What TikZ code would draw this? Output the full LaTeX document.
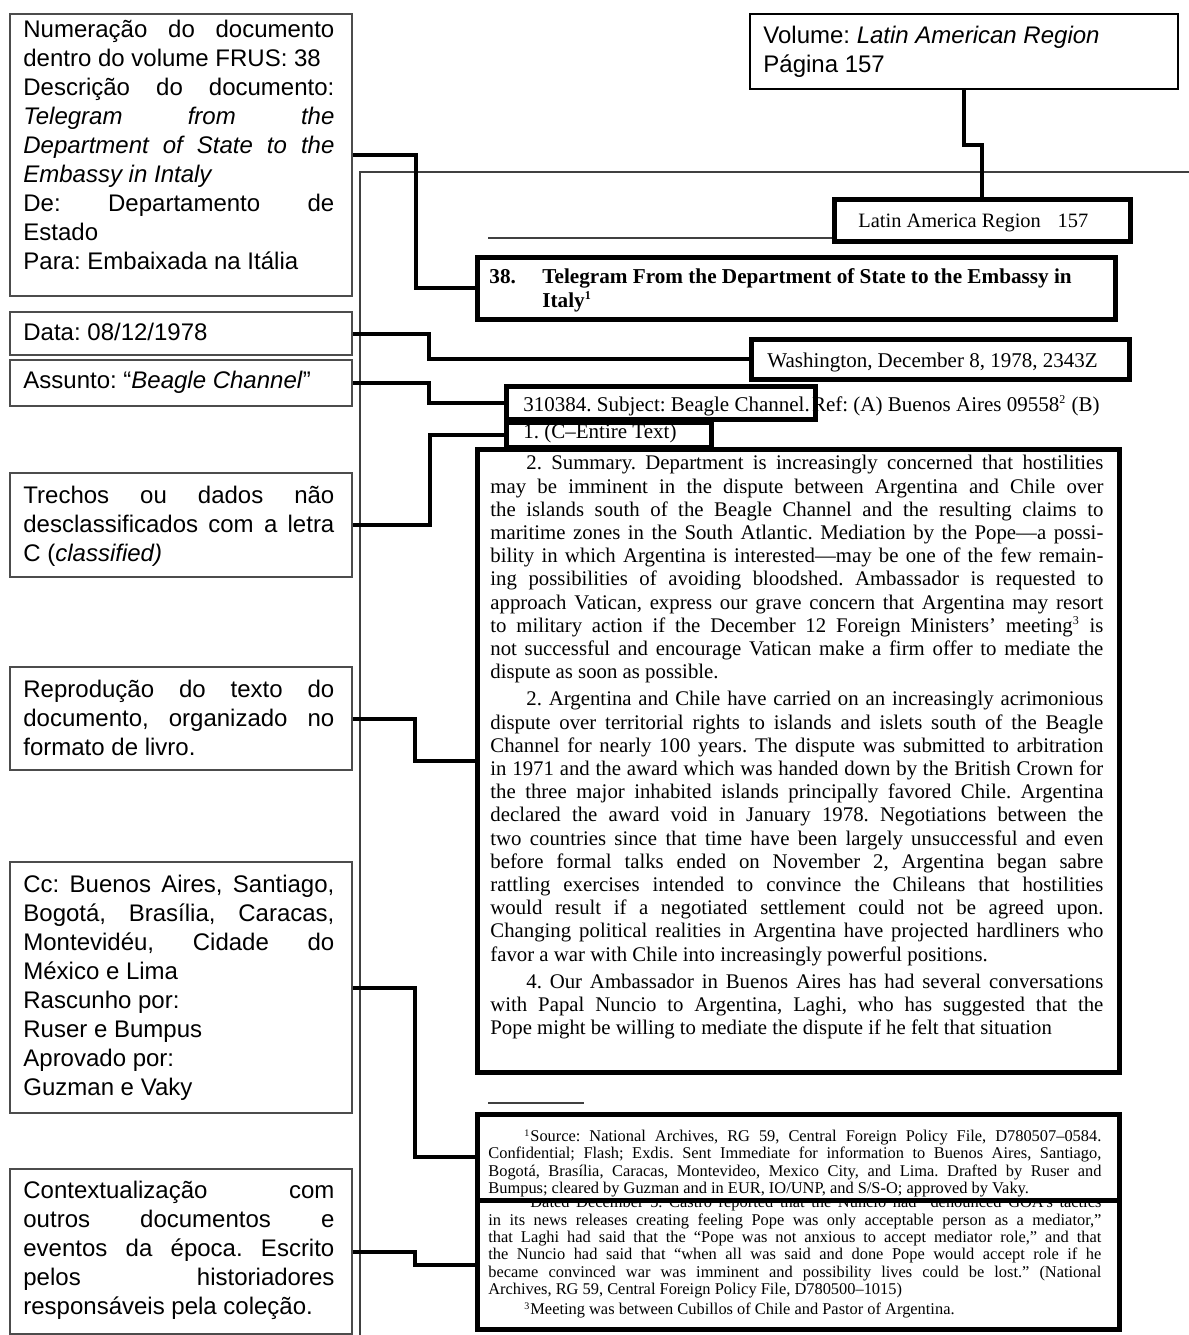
\documentclass[tikz,border=0pt]{standalone}
\usepackage{fontspec}
\setmainfont{Liberation Serif}
\newfontfamily\arial{Liberation Sans}
\setlength{\parindent}{0pt}
\tolerance=10000
\hbadness=10000
\hyphenpenalty=10000
\frenchspacing

\begin{document}
\frenchspacing
\begin{tikzpicture}[x=0.5pt, y=-0.5pt,
        lbox/.style={draw=black!70, line width=1pt, anchor=north west, inner sep=0pt, minimum width=171pt},
        ltext/.style={anchor=north west, inner sep=0pt, text width=155.5pt, align=justify, font=\arial\fontsize{12}{14.5}\selectfont},
        pbox/.style={draw, line width=2.4pt, anchor=north west, inner sep=0pt},
        ptext/.style={anchor=north west, inner sep=0pt, text width=306.5pt, align=justify, font=\fontsize{10.4}{11.6}\selectfont},
        ftext/.style={anchor=north west, inner sep=0pt, text width=306.5pt, align=justify, font=\fontsize{8.2}{8.6}\selectfont},
        stext/.style={anchor=base west, inner sep=0pt, font=\fontsize{10.5}{12}\selectfont},
        link/.style={line width=2pt},
        page/.style={line width=0.8pt, black!75}]

        \useasboundingbox (0,0) rectangle (1189,1335);

        % page of the book
        \draw[page] (360,1335) -- (360,172) -- (1189,172);
        \draw[page] (488,238) -- (832,238);
        \draw[page] (488,1103) -- (584,1103);

        % volume and running head
        \node[pbox, line width=1pt, minimum width=214pt, minimum height=37.5pt] (volbox) at (749,13) {};
        \node[anchor=north west, inner sep=0pt, align=left, font=\arial\fontsize{12}{14.5}\selectfont] (voltxt) at (763,26) {Volume: \textit{Latin American Region}\\Página 157};
        \node[pbox, minimum width=148pt, minimum height=21pt] (latbox) at (832,197) {};
        \node[stext, font=\fontsize{10.2}{12}\selectfont] (lattxt) at (858,227) {Latin America Region\hspace{8.4pt}157};

        % heading of the document
        \node[pbox, minimum width=319pt, minimum height=31pt] (titlebox) at (475,255) {};
        \node[stext, font=\bfseries\fontsize{10.6}{12}\selectfont] (titlenum) at (489,283) {38.};
        \node[stext, font=\bfseries\fontsize{10.6}{12}\selectfont] (titletxt) at (542,283) {Telegram From the Department of State to the Embassy in};
        \node[stext, font=\bfseries\fontsize{10.6}{12}\selectfont] (titletxtb) at (542,307) {Italy\textsuperscript{\fontsize{6}{6}\selectfont 1}};

        \node[pbox, minimum width=189pt, minimum height=20pt] (washbox) at (749,337) {};
        \node[stext, anchor=base east] (washtxt) at (1098,367) {Washington, December 8, 1978, 2343Z};

        \node[stext] (subjtxt) at (523,411) {310384. Subject: Beagle Channel.};
        \node[stext, anchor=base east] (reftxt) at (1100,411) {Ref: (A) Buenos Aires 09558\textsuperscript{\fontsize{6}{6}\selectfont 2} (B)};
        \node[pbox, minimum width=154.5pt, minimum height=16.5pt] (subjbox) at (504,384) {};

        \node[stext] (ctxt) at (523,438) {1. (C–Entire Text)};
        \node[pbox, minimum width=102.5pt, minimum height=12.5pt] (cbox) at (504,420) {};

        % body text
        \node[pbox, minimum width=321pt, minimum height=311.5pt] (sumbox) at (475,447) {};
        \node[ptext] (sumtxt) at (490,455) {\setlength{\parskip}{2pt}%
            \hspace*{18pt}2. Summary. Department is increasingly concerned that hostilities\linebreak
            may be imminent in the dispute between Argentina and Chile over\linebreak
            the islands south of the Beagle Channel and the resulting claims to\linebreak
            maritime zones in the South Atlantic. Mediation by the Pope—a possi-\linebreak
            bility in which Argentina is interested—may be one of the few remain-\linebreak
            ing possibilities of avoiding bloodshed. Ambassador is requested to\linebreak
            approach Vatican, express our grave concern that Argentina may resort\linebreak
            to military action if the December 12 Foreign Ministers’ meeting\textsuperscript{\fontsize{6}{6}\selectfont 3} is\linebreak
            not successful and encourage Vatican make a firm offer to mediate the\linebreak
            dispute as soon as possible.\par
            \hspace*{18pt}2. Argentina and Chile have carried on an increasingly acrimonious\linebreak
            dispute over territorial rights to islands and islets south of the Beagle\linebreak
            Channel for nearly 100 years. The dispute was submitted to arbitration\linebreak
            in 1971 and the award which was handed down by the British Crown for\linebreak
            the three major inhabited islands principally favored Chile. Argentina\linebreak
            declared the award void in January 1978. Negotiations between the\linebreak
            two countries since that time have been largely unsuccessful and even\linebreak
            before formal talks ended on November 2, Argentina began sabre\linebreak
            rattling exercises intended to convince the Chileans that hostilities\linebreak
            would result if a negotiated settlement could not be agreed upon.\linebreak
            Changing political realities in Argentina have projected hardliners who\linebreak
            favor a war with Chile into increasingly powerful positions.\par
            \hspace*{18pt}4. Our Ambassador in Buenos Aires has had several conversations\linebreak
            with Papal Nuncio to Argentina, Laghi, who has suggested that the\linebreak
            Pope might be willing to mediate the dispute if he felt that situation};

        % footnotes
        \node[ftext, font=\fontsize{8.2}{8.7}\selectfont] (fnbtxt) at (488,1195) {\setlength{\parskip}{1.3pt}%
            \hspace*{18pt}\textsuperscript{\fontsize{5}{5}\selectfont 2}Dated December 5. Castro reported that the Nuncio had “denounced GOA’s tactics\linebreak
            in its news releases creating feeling Pope was only acceptable person as a mediator,”\linebreak
            that Laghi had said that the “Pope was not anxious to accept mediator role,” and that\linebreak
            the Nuncio had said that “when all was said and done Pope would accept role if he\linebreak
            became convinced war was imminent and possibility lives could be lost.” (National\linebreak
            Archives, RG 59, Central Foreign Policy File, D780500–1015)\par
            \hspace*{18pt}\textsuperscript{\fontsize{5}{5}\selectfont 3}Meeting was between Cubillos of Chile and Pastor of Argentina.};
        \node[pbox, fill=white, minimum width=321pt, minimum height=43pt] (fnabox) at (475,1112) {};
        \node[ftext] (fnatxt) at (488,1129) {%
            \hspace*{18pt}\textsuperscript{\fontsize{5}{5}\selectfont 1}Source: National Archives, RG 59, Central Foreign Policy File, D780507–0584.\linebreak
            Confidential; Flash; Exdis. Sent Immediate for information to Buenos Aires, Santiago,\linebreak
            Bogotá, Brasília, Caracas, Montevideo, Mexico City, and Lima. Drafted by Ruser and\linebreak
            Bumpus; cleared by Guzman and in EUR, IO/UNP, and S/S-O; approved by Vaky.};
        \node[pbox, minimum width=321pt, minimum height=64.5pt] (fnbbox) at (475,1198) {};

        % notes on the left
        \node[lbox, minimum height=141pt] (numbox) at (9,13) {};
        \node[ltext] (numtxt) at (23,20) {Numeração do documento\linebreak
            dentro do volume FRUS: 38\par
            Descrição do documento:\linebreak
            \textit{Telegram from the\linebreak Department of State to the\linebreak Embassy in Intaly}\par
            De: Departamento de\linebreak Estado\par
            Para: Embaixada na Itália};

        \node[lbox, minimum height=21.5pt] (datebox) at (9,311) {};
        \node[ltext, anchor=base west] (datetxt) at (23,340) {Data: 08/12/1978};

        \node[lbox, minimum height=23pt] (asbox) at (9,359) {};
        \node[ltext, anchor=base west] (astxt) at (23,388) {Assunto: “\textit{Beagle Channel}”};

        \node[lbox, minimum height=52pt] (classbox) at (9,472) {};
        \node[ltext] (classtxt) at (23,486) {Trechos ou dados não\linebreak
            desclassificados com a letra\linebreak
            C (\textit{classified)}};

        \node[lbox, minimum height=51.5pt] (reprobox) at (9,666) {};
        \node[ltext] (reprotxt) at (23,680) {Reprodução do texto do\linebreak
            documento, organizado no\linebreak
            formato de livro.};

        \node[lbox, minimum height=125.5pt] (ccbox) at (9,861) {};
        \node[ltext] (cctxt) at (23,875) {Cc: Buenos Aires, Santiago,\linebreak
            Bogotá, Brasília, Caracas,\linebreak
            Montevidéu, Cidade do\linebreak
            México e Lima\par
            Rascunho por:\par
            Ruser e Bumpus\par
            Aprovado por:\par
            Guzman e Vaky};

        \node[lbox, minimum height=82.5pt] (ctxbox) at (9,1168) {};
        \node[ltext] (ctxtxt) at (23,1181) {Contextualização com\linebreak
            outros documentos e\linebreak
            eventos da época. Escrito\linebreak
            pelos historiadores\linebreak
            responsáveis pela coleção.};

        % connectors
        \draw[link] (volbox.south) -- ++(0,55) -| (latbox.north);
        \draw[link] (numbox.east) -- ++(63,0) |- (titlebox.west);
        \draw[link] (datebox.east) -- ++(76,0) |- (washbox.west);
        \draw[link] (asbox.east) -- ++(76,0) |- (subjbox.west);
        \draw[link] (classbox.east) -- ++(77,0) |- (cbox.west);
        \draw[link] (reprobox.east) -- ++(62,0) |- (sumbox.west);
        \draw[link] (ccbox.east) -- ++(62,0) |- (fnabox.west);
        \draw[link] (ctxbox.east) -- ++(62,0) |- (fnbbox.west);

\end{tikzpicture}
\end{document}
